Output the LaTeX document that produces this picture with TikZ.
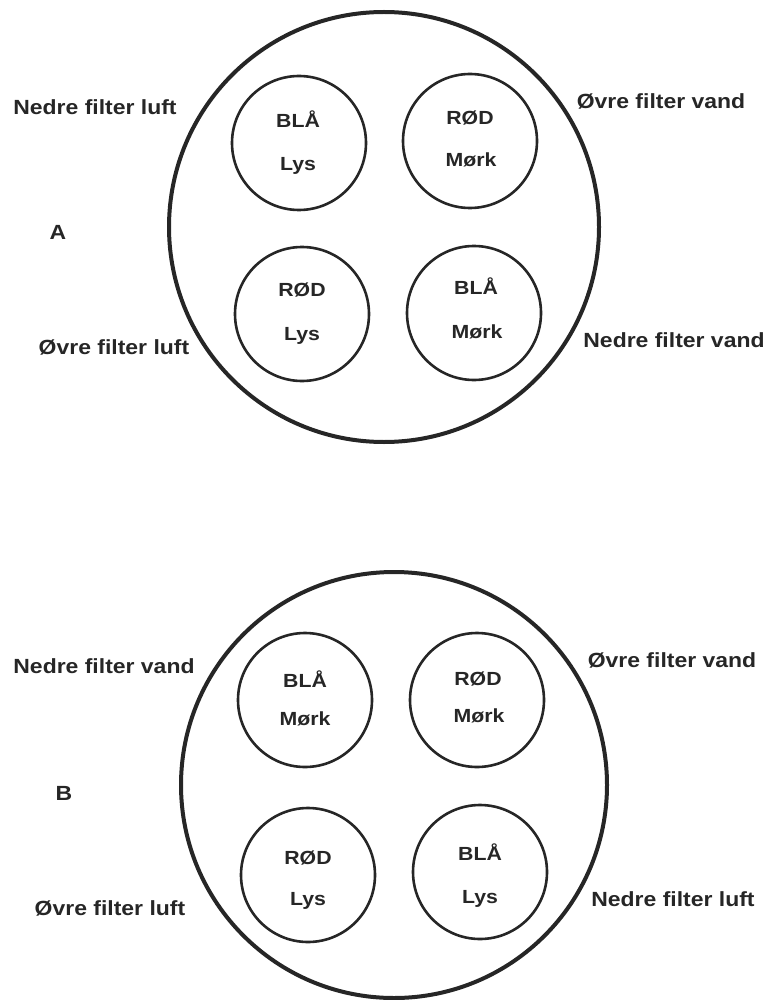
\documentclass[tikz,border=0pt]{standalone}
\usepackage{fontspec}
\setmainfont{Liberation Sans}[FakeStretch=1.12]
\definecolor{ink}{HTML}{262626}
\begin{document}
\begin{tikzpicture}[x=1pt,y=-1pt,
  bigring/.style={draw=ink,line width=4pt,circle,minimum size=430pt,inner sep=0pt},
  dish/.style={draw=ink,line width=2.6pt,circle,minimum size=134pt,inner sep=0pt},
  dishtext/.style={text=ink,font=\fontsize{19}{19}\selectfont\bfseries,anchor=base,inner sep=0pt},
  sidelabel/.style={text=ink,font=\fontsize{20.5}{20.5}\selectfont\bfseries,anchor=base,inner sep=0pt}]
\useasboundingbox (0,0) rectangle (767,1000);
% ---------- A ----------
\node[bigring] (ringA) at (384,227) {};
\node[dish] (a1) at (299,143) {};
\node[dish] (a2) at (470,141) {};
\node[dish] (a3) at (302,314) {};
\node[dish] (a4) at (474,313) {};
\node[dishtext] (a1t) at (298,128) {BLÅ};
\node[dishtext] (a1b) at (298,171) {Lys};
\node[dishtext] (a2t) at (470,125) {RØD};
\node[dishtext] (a2b) at (471,167) {Mørk};
\node[dishtext] (a3t) at (302,296) {RØD};
\node[dishtext] (a3b) at (302,340) {Lys};
\node[dishtext] (a4t) at (476,294) {BLÅ};
\node[dishtext] (a4b) at (477,338) {Mørk};
\node[sidelabel] (aNL) at (95,115) {Nedre filter luft};
\node[sidelabel] (aA) at (58,240) {A};
\node[sidelabel] (aOL) at (114,354) {Øvre filter luft};
\node[sidelabel] (aOV) at (661,109) {Øvre filter vand};
\node[sidelabel] (aNV) at (674,347) {Nedre filter vand};
% ---------- B ----------
\node[bigring,minimum size=426pt] (ringB) at (394,785) {};
\node[dish] (b1) at (305,700) {};
\node[dish] (b2) at (477,700) {};
\node[dish] (b3) at (308,875) {};
\node[dish] (b4) at (480,872) {};
\node[dishtext] (b1t) at (305,687) {BLÅ};
\node[dishtext] (b1b) at (305,725) {Mørk};
\node[dishtext] (b2t) at (478,685) {RØD};
\node[dishtext] (b2b) at (479,722) {Mørk};
\node[dishtext] (b3t) at (308,864) {RØD};
\node[dishtext] (b3b) at (308,905) {Lys};
\node[dishtext] (b4t) at (480,860) {BLÅ};
\node[dishtext] (b4b) at (480,903) {Lys};
\node[sidelabel] (bNV) at (104,673) {Nedre filter vand};
\node[sidelabel] (bB) at (64,800) {B};
\node[sidelabel] (bOL) at (110,915) {Øvre filter luft};
\node[sidelabel] (bOV) at (672,667) {Øvre filter vand};
\node[sidelabel] (bNL) at (673,906) {Nedre filter luft};
\end{tikzpicture}
\end{document}
